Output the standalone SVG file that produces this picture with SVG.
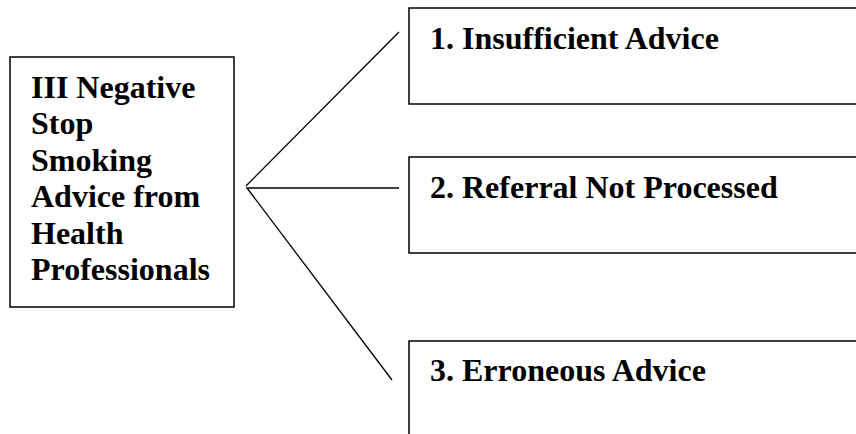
<svg xmlns="http://www.w3.org/2000/svg" width="856" height="434" viewBox="0 0 856 434">
<style>
.box{fill:#fff;stroke:#000;stroke-width:1.5}
.lbl{font-family:"Liberation Serif","Times New Roman",serif;font-weight:bold;font-size:32px;fill:#000}
.conn{stroke:#000;stroke-width:1.3;fill:none}
</style>
<rect width="856" height="434" fill="#fff"/>
<g id="connectors">
<line class="conn" x1="246" y1="186" x2="399" y2="32"/>
<line class="conn" x1="246" y1="188" x2="399" y2="188"/>
<line class="conn" x1="247" y1="188" x2="392" y2="380"/>
</g>
<g id="root">
<rect class="box" x="10" y="57" width="224" height="250"/>
<text class="lbl" x="31" y="98">III Negative</text>
<text class="lbl" x="31" y="134">Stop</text>
<text class="lbl" x="31" y="171">Smoking</text>
<text class="lbl" x="31" y="207">Advice from</text>
<text class="lbl" x="31" y="244">Health</text>
<text class="lbl" x="31" y="280">Professionals</text>
</g>
<g id="n1">
<rect class="box" x="409" y="8" width="470" height="96"/>
<text class="lbl" x="430" y="49">1. Insufficient Advice</text>
</g>
<g id="n2">
<rect class="box" x="409" y="157" width="470" height="96"/>
<text class="lbl" x="430" y="198">2. Referral Not Processed</text>
</g>
<g id="n3">
<rect class="box" x="409" y="341" width="470" height="120"/>
<text class="lbl" x="430" y="381">3. Erroneous Advice</text>
</g>
</svg>
